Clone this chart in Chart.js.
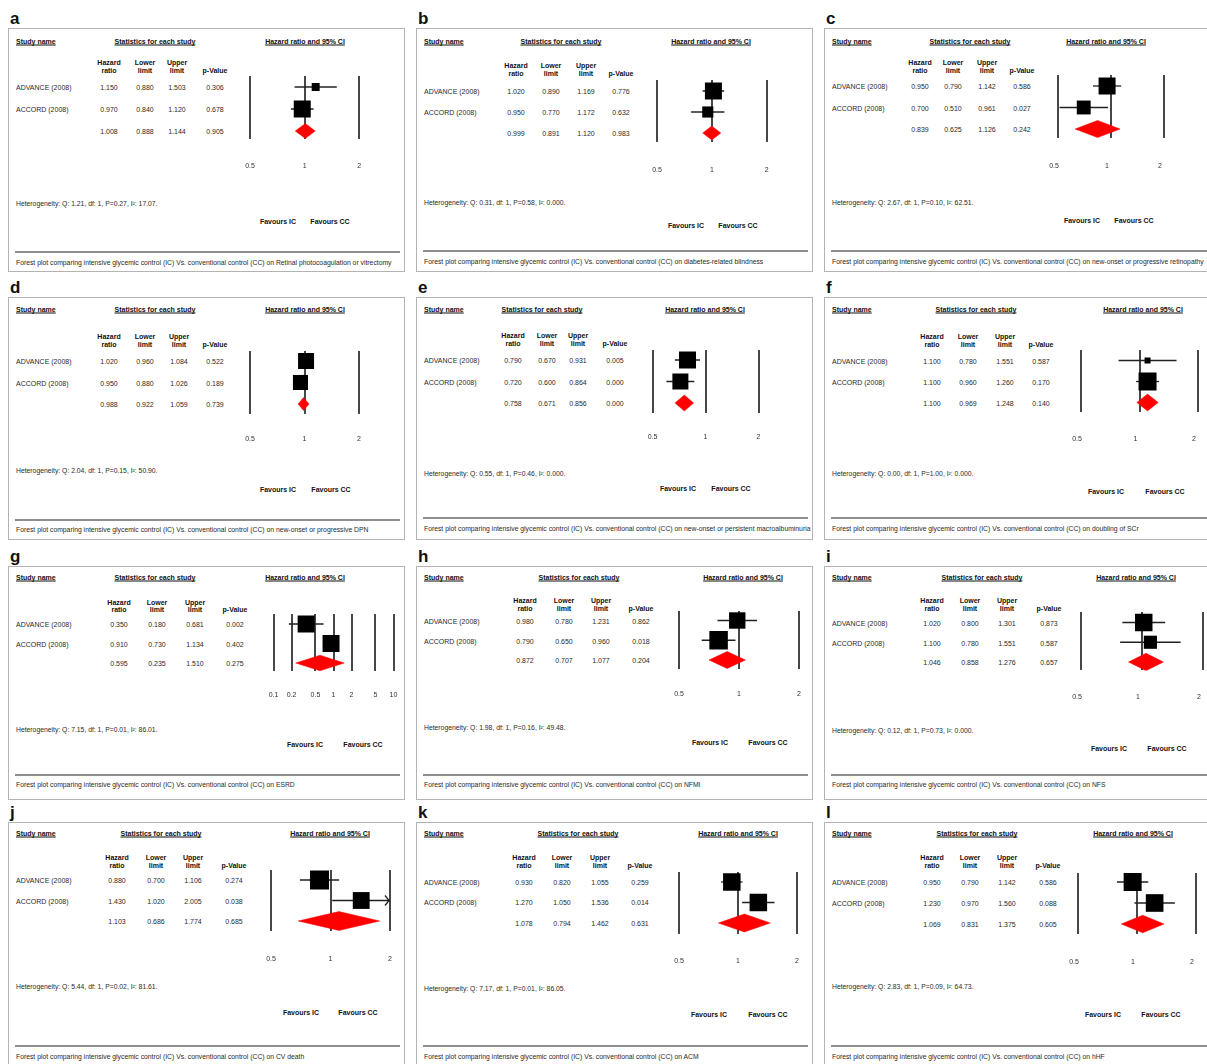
<!DOCTYPE html>
<html>
<head>
<meta charset="utf-8">
<script src="https://cdn.jsdelivr.net/npm/chart.js@4.4.0/dist/chart.umd.min.js"></script>
<style>
  body { margin: 0; background: #fff; }
  #page { position: relative; width: 1207px; height: 1064px; overflow: hidden;
          font-family: "Liberation Sans", Arial, sans-serif; color: #2a2a2a; }
  .t { position: absolute; white-space: nowrap; font-size: 7px; line-height: 1; }
  .s { font-size: 6.8px; }
  .c { transform: translate(-50%, -50%); text-align: center; }
  .l { transform: translateY(-50%); }
  .b { font-weight: bold; color: #111; }
  .u { text-decoration: underline; }
  .box { position: absolute; border: 1.5px solid #b3b3b3; box-sizing: border-box; }
  .rule { position: absolute; height: 2px; background: #8f8f8f; }
  .letter { position: absolute; font-weight: bold; font-size: 17px; line-height: 1;
            transform: translateY(-50%); color: #111; }
  canvas { position: absolute; }
</style>
</head>
<body>
<div id="page"></div>
<script>
// ---- data -------------------------------------------------------------
const panelLetters = ['a', 'b', 'c', 'd', 'e', 'f', 'g', 'h', 'i', 'j', 'k', 'l'];
const outcomes = [
  'Retinal photocoagulation or vitrectomy', 'diabetes-related blindness',
  'new-onset or progressive retinopathy', 'new-onset or progressive DPN',
  'new-onset or persistent macroalbuminuria', 'doubling of SCr',
  'ESRD', 'NFMI', 'NFS', 'CV death', 'ACM', 'hHF'
];
const studies = ['ADVANCE (2008)', 'ACCORD (2008)'];

// each entry: [ADVANCE, ACCORD, pooled]
const hazardRatio = [
  [1.150, 0.970, 1.008], [1.020, 0.950, 0.999], [0.950, 0.700, 0.839],
  [1.020, 0.950, 0.988], [0.790, 0.720, 0.758], [1.100, 1.100, 1.100],
  [0.350, 0.910, 0.595], [0.980, 0.790, 0.872], [1.020, 1.100, 1.046],
  [0.880, 1.430, 1.103], [0.930, 1.270, 1.078], [0.950, 1.230, 1.069]
];
const lowerLimit = [
  [0.880, 0.840, 0.888], [0.890, 0.770, 0.891], [0.790, 0.510, 0.625],
  [0.960, 0.880, 0.922], [0.670, 0.600, 0.671], [0.780, 0.960, 0.969],
  [0.180, 0.730, 0.235], [0.780, 0.650, 0.707], [0.800, 0.780, 0.858],
  [0.700, 1.020, 0.686], [0.820, 1.050, 0.794], [0.790, 0.970, 0.831]
];
const upperLimit = [
  [1.503, 1.120, 1.144], [1.169, 1.172, 1.120], [1.142, 0.961, 1.126],
  [1.084, 1.026, 1.059], [0.931, 0.864, 0.856], [1.551, 1.260, 1.248],
  [0.681, 1.134, 1.510], [1.231, 0.960, 1.077], [1.301, 1.551, 1.276],
  [1.106, 2.005, 1.774], [1.055, 1.536, 1.462], [1.142, 1.560, 1.375]
];
const pValue = [
  [0.306, 0.678, 0.905], [0.776, 0.632, 0.983], [0.586, 0.027, 0.242],
  [0.522, 0.189, 0.739], [0.005, 0.000, 0.000], [0.587, 0.170, 0.140],
  [0.002, 0.402, 0.275], [0.862, 0.018, 0.204], [0.873, 0.587, 0.657],
  [0.274, 0.038, 0.685], [0.259, 0.014, 0.631], [0.586, 0.088, 0.605]
];
// relative study weights (%) used for the square markers
const studyWeight = [
  [18, 82], [70, 30], [60, 40], [53, 47], [53, 47], [10, 90],
  [50, 50], [44, 56], [64, 36], [56, 44], [50, 50], [51, 49]
];
const heterogeneityQ  = [1.21, 0.31, 2.67, 2.04, 0.55, 0.00, 7.15, 1.98, 0.12, 5.44, 7.17, 2.83];
const heterogeneityDf = [1, 1, 1, 1, 1, 1, 1, 1, 1, 1, 1, 1];
const heterogeneityP  = [0.27, 0.58, 0.10, 0.15, 0.46, 1.00, 0.01, 0.16, 0.73, 0.02, 0.01, 0.09];
const heterogeneityI2 = [17.07, 0, 62.51, 50.90, 0, 0, 86.01, 49.48, 0, 81.61, 86.05, 64.73];

const standardTicks = [0.5, 1, 2];
const standardTickLabels = ['0.5', '1', '2'];
const wideTicks = [0.1, 0.2, 0.5, 1, 2, 5, 10];
const wideTickLabels = ['0.1', '0.2', '0.5', '1', '2', '5', '10'];
const axisTicks = panelLetters.map(l => l === 'g' ? wideTicks : standardTicks);
const axisTickLabels = panelLetters.map(l => l === 'g' ? wideTickLabels : standardTickLabels);

const columnHeaders = [['Hazard', 'ratio'], ['Lower', 'limit'], ['Upper', 'limit'], ['', 'p-Value']];

// ---- geometry of each panel -------------------------------------------
const layout = [
  { box: [8, 28, 397, 244],   head: 41,  stats: 155,  hr: 305,  colY: [62, 70],   cols: [109, 145, 177, 215],
    rows: [87, 109, 131],     plot: [250, 359.3, 76, 139],   tickY: 166, shift: 0,  het: 204, fav: 220.5, favX: [278, 330],  rule: 252, cap: 262.5, sq: 17,  dia: 0.34 },
  { box: [416, 28, 397, 244], head: 41,  stats: 561,  hr: 711,  colY: [65, 73],   cols: [516, 551, 586, 621],
    rows: [91, 112, 133],     plot: [657, 766.7, 80, 142],   tickY: 170, shift: 0,  het: 203, fav: 225,   favX: [686, 738],  rule: 251, cap: 262, sq: 17,   dia: 0.33 },
  { box: [824, 28, 397, 244], head: 41,  stats: 970,  hr: 1106, colY: [62, 70],   cols: [920, 953, 987, 1022],
    rows: [86, 107.5, 129],   plot: [1058, 1164, 75, 138],   tickY: 166, shift: -4, het: 203, fav: 220,   favX: [1082, 1134], rule: 251, cap: 262, sq: 17,  dia: 0.4 },
  { box: [8, 297, 397, 243],  head: 309, stats: 155,  hr: 305,  colY: [336, 344], cols: [109, 145, 179, 215],
    rows: [361, 382.5, 404],  plot: [250, 359, 351, 413.5],  tickY: 439, shift: 0,  het: 471, fav: 489,   favX: [278, 331],  rule: 520, cap: 530, sq: 16,   dia: 0.3 },
  { box: [416, 297, 397, 243], head: 309, stats: 542, hr: 705,  colY: [335, 343], cols: [513, 547, 578, 615],
    rows: [360, 382, 403],    plot: [652.5, 758.5, 350, 413], tickY: 437.5, shift: 0, het: 474, fav: 488, favX: [678, 731],  rule: 518, cap: 529, sq: 17,   dia: 0.37 },
  { box: [824, 297, 397, 243], head: 309, stats: 976, hr: 1143, colY: [336, 344], cols: [932, 968, 1005, 1041],
    rows: [360.5, 381.5, 402.5], plot: [1081, 1198, 350, 412], tickY: 439, shift: -4, het: 474, fav: 491, favX: [1106, 1165], rule: 518, cap: 529, sq: 18, dia: 0.4 },
  { box: [8, 566, 397, 234],  head: 577, stats: 155,  hr: 305,  colY: [602, 609], cols: [119, 157, 195, 235],
    rows: [624, 644, 663],    plot: [273.5, 393.5, 614, 671], tickY: 695, shift: 0, het: 730, fav: 744,   favX: [305, 363],  rule: 775, cap: 785, sq: 17,   dia: 0.4 },
  { box: [416, 566, 397, 234], head: 577, stats: 579, hr: 743,  colY: [600, 608], cols: [525, 564, 601, 641],
    rows: [620.5, 640.5, 660], plot: [679, 799, 611, 669],  tickY: 694, shift: 0,  het: 728, fav: 742,   favX: [710, 768],  rule: 775, cap: 785, sq: 18.5, dia: 0.43 },
  { box: [824, 566, 397, 234], head: 577, stats: 982, hr: 1136, colY: [600, 608], cols: [932, 970, 1007, 1049],
    rows: [622.5, 642.5, 662], plot: [1081, 1203, 612, 670], tickY: 697, shift: -4, het: 731, fav: 748,  favX: [1109, 1167], rule: 775, cap: 785, sq: 17.5, dia: 0.44 },
  { box: [8, 822, 397, 250],  head: 833, stats: 161,  hr: 330,  colY: [857, 865], cols: [117, 156, 193, 234],
    rows: [880, 900.5, 921],  plot: [271, 390, 870, 931],    tickY: 959, shift: 0,  het: 987, fav: 1012,  favX: [301, 358],  rule: 1046, cap: 1057, sq: 19, dia: 0.46 },
  { box: [416, 822, 397, 250], head: 833, stats: 578, hr: 738,  colY: [857, 865], cols: [524, 562, 600, 640],
    rows: [882, 902, 923],    plot: [679, 797, 872, 934],    tickY: 961, shift: 0,  het: 989, fav: 1014,  favX: [709, 768],  rule: 1046, cap: 1057, sq: 17.5, dia: 0.44 },
  { box: [824, 822, 397, 250], head: 833, stats: 977, hr: 1133, colY: [857, 865], cols: [932, 970, 1007, 1048],
    rows: [882, 903, 924],    plot: [1078, 1196, 873, 934],  tickY: 962, shift: -4, het: 987, fav: 1014,  favX: [1103, 1161], rule: 1046, cap: 1057, sq: 18, dia: 0.42 }
];

// ---- helpers ------------------------------------------------------------
const page = document.getElementById('page');
function el(tag, cls, css, text) {
  const e = document.createElement(tag);
  if (cls) e.className = cls;
  Object.assign(e.style, css);
  if (text !== undefined) e.textContent = text;
  page.appendChild(e);
  return e;
}
function textAt(x, y, str, cls) {
  return el('div', 't ' + cls, { left: x + 'px', top: y + 'px' }, str);
}
const fmt3 = v => v.toFixed(3);
const fmtI2 = v => v === 0 ? '0.000' : v.toFixed(2);

Chart.defaults.font.family = '"Liberation Sans", Arial, sans-serif';
Chart.defaults.font.size = 7;
Chart.defaults.color = '#333';

// arrowhead where a confidence interval runs past the axis maximum
const clippedArrows = {
  id: 'clippedArrows',
  afterDatasetsDraw(chart, args, opts) {
    const { ctx, chartArea, scales } = chart;
    (opts.items || []).forEach(({ upper, row }) => {
      if (upper <= scales.x.max) return;
      const px = chartArea.right - 1;
      const py = scales.y.getPixelForValue(row);
      ctx.save();
      ctx.strokeStyle = '#222';
      ctx.lineWidth = 1.3;
      ctx.beginPath();
      ctx.moveTo(px - 4, py - 5);
      ctx.lineTo(px, py);
      ctx.lineTo(px - 4, py + 5);
      ctx.stroke();
      ctx.restore();
    });
  }
};

// ---- build panels ---------------------------------------------------------
layout.forEach((L, p) => {
  const [bx, by, bw, bh] = L.box;
  el('div', 'box', { left: bx + 'px', top: by + 'px', width: bw + 'px', height: bh + 'px' });
  el('div', 'letter', { left: (bx + 2) + 'px', top: (by - 10) + 'px' }, panelLetters[p]);

  const tx = bx + 8;
  textAt(tx, L.head, 'Study name', 'l b u');
  textAt(L.stats, L.head, 'Statistics for each study', 'c b u');
  textAt(L.hr, L.head, 'Hazard ratio and 95% CI', 'c b u');
  columnHeaders.forEach((h, c) => {
    if (h[0]) textAt(L.cols[c], L.colY[0], h[0], 'c b');
    textAt(L.cols[c], L.colY[1], h[1], 'c b');
  });

  for (let r = 0; r < 3; r++) {
    if (r < 2) textAt(tx, L.rows[r], studies[r], 'l');
    textAt(L.cols[0], L.rows[r], fmt3(hazardRatio[p][r]), 'c');
    textAt(L.cols[1], L.rows[r], fmt3(lowerLimit[p][r]), 'c');
    textAt(L.cols[2], L.rows[r], fmt3(upperLimit[p][r]), 'c');
    textAt(L.cols[3], L.rows[r], fmt3(pValue[p][r]), 'c');
  }

  textAt(tx, L.het, 'Heterogeneity: Q: ' + heterogeneityQ[p].toFixed(2) + ', df: ' + heterogeneityDf[p] +
    ', P=' + heterogeneityP[p].toFixed(2) + ', I\u00b2: ' + fmtI2(heterogeneityI2[p]) + '.', 'l s');
  textAt(L.favX[0], L.fav, 'Favours IC', 'c b');
  textAt(L.favX[1], L.fav, 'Favours CC', 'c b');
  el('div', 'rule', { left: (bx + 7) + 'px', top: (L.rule - 1) + 'px', width: (bw - 12) + 'px' });
  textAt(tx, L.cap, 'Forest plot comparing intensive glycemic control (IC) Vs. conventional control (CC) on ' + outcomes[p], 'l s');

  // plot area: chart area placed exactly on the plot rectangle
  const [x0, x1, top, bottom] = L.plot;
  const left = Math.floor(x0) - 14;
  const width = Math.ceil(x1) + 14 - left;
  const ctop = Math.floor(top) - 4;
  const height = Math.ceil(L.tickY + 10) - ctop;
  const axisH = height - (bottom - ctop);
  const canvas = el('canvas', '', { left: left + 'px', top: ctop + 'px', width: width + 'px', height: height + 'px' });
  canvas.width = width;
  canvas.height = height;

  const spacing = (L.rows[2] - L.rows[0]) / 2;
  const yMin = 1 - (L.rows[0] - top) / spacing;
  const yMax = 3 + (bottom - L.rows[2]) / spacing;

  const ticks = axisTicks[p];
  const labels = axisTickLabels[p];
  const wMax = Math.max(...studyWeight[p]);
  const sides = studyWeight[p].map(w => L.sq * Math.sqrt(w / wMax));

  const est = hazardRatio[p][2], lo = lowerLimit[p][2], hi = upperLimit[p][2];
  const datasets = [
    {
      type: 'scatter',
      data: [0, 1].map(r => ({ x: hazardRatio[p][r], y: r + 1 })),
      pointStyle: 'rect',
      pointRadius: sides.map(s => s / (2 * Math.SQRT1_2)),
      pointBackgroundColor: '#000',
      pointBorderWidth: 0,
      clip: false,
      order: 0
    },
    {
      type: 'line',
      data: [
        { x: lo, y: 3 }, { x: est, y: 3 - L.dia }, { x: hi, y: 3 }, { x: est, y: 3 + L.dia }, { x: lo, y: 3 }
      ],
      borderColor: '#ff0000',
      borderWidth: 0.5,
      backgroundColor: '#ff0000',
      fill: 'shape',
      pointRadius: 0,
      tension: 0,
      clip: false,
      order: 1
    },
    ...[0, 1].map(r => ({
      type: 'line',
      data: [{ x: lowerLimit[p][r], y: r + 1 }, { x: upperLimit[p][r], y: r + 1 }],
      borderColor: '#222',
      borderWidth: 1.3,
      pointRadius: 0,
      fill: false,
      order: 2
    }))
  ];

  new Chart(canvas, {
    type: 'scatter',
    data: { datasets },
    options: {
      responsive: false,
      animation: false,
      events: [],
      layout: {
        autoPadding: false,
        padding: { left: x0 - left, right: left + width - x1, top: top - ctop, bottom: 0 }
      },
      plugins: {
        legend: { display: false },
        tooltip: { enabled: false },
        clippedArrows: { items: [0, 1].map(r => ({ upper: upperLimit[p][r], row: r + 1 })) }
      },
      scales: {
        x: {
          type: 'logarithmic',
          position: 'bottom',
          min: ticks[0],
          max: ticks[ticks.length - 1],
          bounds: 'data',
          afterBuildTicks: s => { s.ticks = ticks.map(v => ({ value: v })); },
          afterFit: s => { s.height = axisH; },
          // invisible tick marks carry the gap between the plot and its labels
          grid: { color: '#474747', lineWidth: 2, drawTicks: true,
                  tickLength: L.tickY - bottom - 4.2, tickColor: 'rgba(0,0,0,0)' },
          border: { display: false },
          ticks: {
            autoSkip: false,
            maxRotation: 0,
            minRotation: 0,
            padding: 0,
            labelOffset: L.shift,
            color: '#333',
            font: { size: 7 },
            callback: (v, i) => labels[i]
          }
        },
        y: { type: 'linear', min: yMin, max: yMax, reverse: true, display: false }
      }
    },
    plugins: [clippedArrows]
  });
});
</script>
</body>
</html>
